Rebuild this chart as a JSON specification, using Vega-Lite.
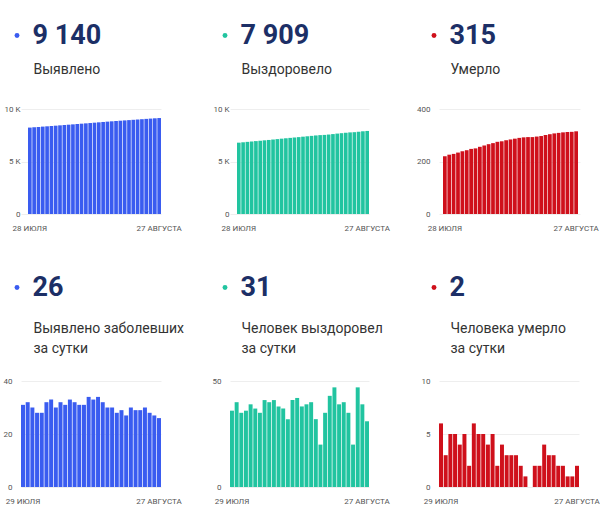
{
  "$schema": "https://vega.github.io/schema/vega-lite/v6.json",
  "padding": {"left": 3, "top": 22, "right": 0, "bottom": 0},
  "background": "white",
  "datasets": {
    "d": [
      {"date": "2020-07-28", "cum_cases": 8230, "cum_rec": 6794, "cum_deaths": 220, "new_cases": null, "new_rec": null, "new_deaths": null},
      {"date": "2020-07-29", "cum_cases": 8261, "cum_rec": 6830, "cum_deaths": 226, "new_cases": 31, "new_rec": 36, "new_deaths": 6},
      {"date": "2020-07-30", "cum_cases": 8293, "cum_rec": 6870, "cum_deaths": 229, "new_cases": 32, "new_rec": 40, "new_deaths": 3},
      {"date": "2020-07-31", "cum_cases": 8323, "cum_rec": 6905, "cum_deaths": 234, "new_cases": 30, "new_rec": 35, "new_deaths": 5},
      {"date": "2020-08-01", "cum_cases": 8351, "cum_rec": 6941, "cum_deaths": 239, "new_cases": 28, "new_rec": 36, "new_deaths": 5},
      {"date": "2020-08-02", "cum_cases": 8379, "cum_rec": 6980, "cum_deaths": 243, "new_cases": 28, "new_rec": 39, "new_deaths": 4},
      {"date": "2020-08-03", "cum_cases": 8411, "cum_rec": 7017, "cum_deaths": 248, "new_cases": 32, "new_rec": 37, "new_deaths": 5},
      {"date": "2020-08-04", "cum_cases": 8444, "cum_rec": 7052, "cum_deaths": 250, "new_cases": 33, "new_rec": 35, "new_deaths": 2},
      {"date": "2020-08-05", "cum_cases": 8474, "cum_rec": 7093, "cum_deaths": 256, "new_cases": 30, "new_rec": 41, "new_deaths": 6},
      {"date": "2020-08-06", "cum_cases": 8506, "cum_rec": 7133, "cum_deaths": 261, "new_cases": 32, "new_rec": 40, "new_deaths": 5},
      {"date": "2020-08-07", "cum_cases": 8537, "cum_rec": 7174, "cum_deaths": 266, "new_cases": 31, "new_rec": 41, "new_deaths": 5},
      {"date": "2020-08-08", "cum_cases": 8570, "cum_rec": 7212, "cum_deaths": 270, "new_cases": 33, "new_rec": 38, "new_deaths": 4},
      {"date": "2020-08-09", "cum_cases": 8602, "cum_rec": 7249, "cum_deaths": 275, "new_cases": 32, "new_rec": 37, "new_deaths": 5},
      {"date": "2020-08-10", "cum_cases": 8633, "cum_rec": 7281, "cum_deaths": 277, "new_cases": 31, "new_rec": 32, "new_deaths": 2},
      {"date": "2020-08-11", "cum_cases": 8664, "cum_rec": 7322, "cum_deaths": 281, "new_cases": 31, "new_rec": 41, "new_deaths": 4},
      {"date": "2020-08-12", "cum_cases": 8698, "cum_rec": 7364, "cum_deaths": 284, "new_cases": 34, "new_rec": 42, "new_deaths": 3},
      {"date": "2020-08-13", "cum_cases": 8731, "cum_rec": 7402, "cum_deaths": 287, "new_cases": 33, "new_rec": 38, "new_deaths": 3},
      {"date": "2020-08-14", "cum_cases": 8765, "cum_rec": 7441, "cum_deaths": 290, "new_cases": 34, "new_rec": 39, "new_deaths": 3},
      {"date": "2020-08-15", "cum_cases": 8797, "cum_rec": 7481, "cum_deaths": 292, "new_cases": 32, "new_rec": 40, "new_deaths": 2},
      {"date": "2020-08-16", "cum_cases": 8827, "cum_rec": 7513, "cum_deaths": 293, "new_cases": 30, "new_rec": 32, "new_deaths": 1},
      {"date": "2020-08-17", "cum_cases": 8857, "cum_rec": 7533, "cum_deaths": 293, "new_cases": 30, "new_rec": 20, "new_deaths": 0},
      {"date": "2020-08-18", "cum_cases": 8885, "cum_rec": 7568, "cum_deaths": 295, "new_cases": 28, "new_rec": 35, "new_deaths": 2},
      {"date": "2020-08-19", "cum_cases": 8914, "cum_rec": 7611, "cum_deaths": 297, "new_cases": 29, "new_rec": 43, "new_deaths": 2},
      {"date": "2020-08-20", "cum_cases": 8941, "cum_rec": 7658, "cum_deaths": 301, "new_cases": 27, "new_rec": 47, "new_deaths": 4},
      {"date": "2020-08-21", "cum_cases": 8971, "cum_rec": 7697, "cum_deaths": 304, "new_cases": 30, "new_rec": 39, "new_deaths": 3},
      {"date": "2020-08-22", "cum_cases": 9000, "cum_rec": 7737, "cum_deaths": 307, "new_cases": 29, "new_rec": 40, "new_deaths": 3},
      {"date": "2020-08-23", "cum_cases": 9029, "cum_rec": 7772, "cum_deaths": 309, "new_cases": 29, "new_rec": 35, "new_deaths": 2},
      {"date": "2020-08-24", "cum_cases": 9059, "cum_rec": 7792, "cum_deaths": 311, "new_cases": 30, "new_rec": 20, "new_deaths": 2},
      {"date": "2020-08-25", "cum_cases": 9087, "cum_rec": 7839, "cum_deaths": 312, "new_cases": 28, "new_rec": 47, "new_deaths": 1},
      {"date": "2020-08-26", "cum_cases": 9114, "cum_rec": 7878, "cum_deaths": 313, "new_cases": 27, "new_rec": 39, "new_deaths": 1},
      {"date": "2020-08-27", "cum_cases": 9140, "cum_rec": 7909, "cum_deaths": 315, "new_cases": 26, "new_rec": 31, "new_deaths": 2}
    ]
  },
  "config": {
    "font": "Roboto",
    "view": {"stroke": null},
    "axis": {"labelFont": "Roboto", "labelFontSize": 8, "labelColor": "#555555", "ticks": false, "domain": false, "gridColor": "#eeeeee", "title": null},
    "axisX": {"grid": false, "labelAngle": 0, "labelPadding": 10},
    "axisY": {"grid": true, "labelPadding": 9},
    "legend": {"orient": "none", "title": null, "symbolType": "circle", "symbolSize": 24, "symbolStrokeWidth": 0, "labelFont": "Roboto", "labelFontSize": 27, "labelFontWeight": "bold", "labelColor": "#1c2f66", "labelOffset": 2, "padding": 0},
    "bar": {"strokeWidth": 0}
  },
  "columns": 3,
  "align": "all",
  "bounds": "flush",
  "spacing": {"row": 166, "column": 68},
  "resolve": {"scale": {"color": "independent"}},
  "concat": [
    {
      "width": 140, "height": 105,
      "data": {"name": "d"},
      "layer": [
        {"mark": "bar", "encoding": {
          "x": {"field": "date", "type": "ordinal", "scale": {"paddingInner": 0.15, "paddingOuter": 0.812, "align": 1}, "axis": {"values": ["2020-07-28", "2020-08-27"], "labelExpr": "datum.value == '2020-08-27' ? '27 АВГУСТА' : '28 ИЮЛЯ'"}},
          "y": {"field": "cum_cases", "type": "quantitative", "scale": {"domain": [0, 10000]}, "axis": {"values": [0, 5000, 10000], "labelPadding": 1, "labelExpr": "datum.value == 0 ? '0' : (datum.value / 1000) + ' K'"}},
          "color": {"datum": "9 140", "scale": {"range": ["#3a5cf0"]}, "legend": {"legendX": -17.5, "legendY": -87}}
        }},
        {"mark": "bar", "transform": [{"filter": "false"}], "encoding": {
          "x": {"field": "date", "type": "ordinal", "axis": {"orient": "top", "labels": false, "title": "Выявлено", "titleFont": "Roboto", "titleFontSize": 14, "titleFontWeight": "normal", "titleColor": "#333333", "titleAnchor": "start", "titleAlign": "left", "titleBaseline": "bottom", "titlePadding": 33, "titleX": 12}}
        }}
      ],
      "resolve": {"axis": {"x": "independent"}}
    },
    {
      "width": 139, "height": 105,
      "data": {"name": "d"},
      "layer": [
        {"mark": "bar", "encoding": {
          "x": {"field": "date", "type": "ordinal", "scale": {"paddingInner": 0.15, "paddingOuter": 0.818, "align": 1}, "axis": {"values": ["2020-07-28", "2020-08-27"], "labelExpr": "datum.value == '2020-08-27' ? '27 АВГУСТА' : '28 ИЮЛЯ'"}},
          "y": {"field": "cum_rec", "type": "quantitative", "scale": {"domain": [0, 10000]}, "axis": {"values": [0, 5000, 10000], "labelPadding": 1, "labelExpr": "datum.value == 0 ? '0' : (datum.value / 1000) + ' K'"}},
          "color": {"datum": "7 909", "scale": {"range": ["#21c4a0"]}, "legend": {"legendX": -18.5, "legendY": -87}}
        }},
        {"mark": "bar", "transform": [{"filter": "false"}], "encoding": {
          "x": {"field": "date", "type": "ordinal", "axis": {"orient": "top", "labels": false, "title": "Выздоровело", "titleFont": "Roboto", "titleFontSize": 14, "titleFontWeight": "normal", "titleColor": "#333333", "titleAnchor": "start", "titleAlign": "left", "titleBaseline": "bottom", "titlePadding": 33, "titleX": 11}}
        }}
      ],
      "resolve": {"axis": {"x": "independent"}}
    },
    {
      "width": 141, "height": 105,
      "data": {"name": "d"},
      "layer": [
        {"mark": "bar", "encoding": {
          "x": {"field": "date", "type": "ordinal", "scale": {"paddingInner": 0.15, "paddingOuter": 0.686, "align": 0.667}, "axis": {"values": ["2020-07-28", "2020-08-27"], "labelExpr": "datum.value == '2020-08-27' ? '27 АВГУСТА' : '28 ИЮЛЯ'"}},
          "y": {"field": "cum_deaths", "type": "quantitative", "scale": {"domain": [0, 400]}, "axis": {"values": [0, 200, 400], "labelPadding": 9}},
          "color": {"datum": "315", "scale": {"range": ["#cf101b"]}, "legend": {"legendX": -18.5, "legendY": -87}}
        }},
        {"mark": "bar", "transform": [{"filter": "false"}], "encoding": {
          "x": {"field": "date", "type": "ordinal", "axis": {"orient": "top", "labels": false, "title": "Умерло", "titleFont": "Roboto", "titleFontSize": 14, "titleFontWeight": "normal", "titleColor": "#333333", "titleAnchor": "start", "titleAlign": "left", "titleBaseline": "bottom", "titlePadding": 33, "titleX": 11}}
        }}
      ],
      "resolve": {"axis": {"x": "independent"}}
    },
    {
      "width": 140, "height": 106,
      "data": {"name": "d"},
      "transform": [{"filter": "datum.new_cases != null"}],
      "layer": [
        {"mark": "bar", "encoding": {
          "x": {"field": "date", "type": "ordinal", "scale": {"paddingInner": 0.15, "paddingOuter": 0}, "axis": {"values": ["2020-07-29", "2020-08-27"], "labelExpr": "datum.value == '2020-08-27' ? '27 АВГУСТА' : '29 ИЮЛЯ'"}},
          "y": {"field": "new_cases", "type": "quantitative", "scale": {"domain": [0, 40]}, "axis": {"values": [0, 20, 40]}},
          "color": {"datum": "26", "scale": {"range": ["#3a5cf0"]}, "legend": {"legendX": -17.5, "legendY": -107}}
        }},
        {"mark": "bar", "transform": [{"filter": "false"}], "encoding": {
          "x": {"field": "date", "type": "ordinal", "axis": {"orient": "top", "labels": false, "title": ["Выявлено заболевших", "за сутки"], "titleFont": "Roboto", "titleFontSize": 14, "titleFontWeight": "normal", "titleColor": "#333333", "titleLineHeight": 20, "titleAnchor": "start", "titleAlign": "left", "titleBaseline": "bottom", "titlePadding": 26, "titleX": 12}}
        }}
      ],
      "resolve": {"axis": {"x": "independent"}}
    },
    {
      "width": 139, "height": 106,
      "data": {"name": "d"},
      "transform": [{"filter": "datum.new_rec != null"}],
      "layer": [
        {"mark": "bar", "encoding": {
          "x": {"field": "date", "type": "ordinal", "scale": {"paddingInner": 0.15, "paddingOuter": 0}, "axis": {"values": ["2020-07-29", "2020-08-27"], "labelExpr": "datum.value == '2020-08-27' ? '27 АВГУСТА' : '29 ИЮЛЯ'"}},
          "y": {"field": "new_rec", "type": "quantitative", "scale": {"domain": [0, 50]}, "axis": {"values": [0, 50]}},
          "color": {"datum": "31", "scale": {"range": ["#21c4a0"]}, "legend": {"legendX": -18.5, "legendY": -107}}
        }},
        {"mark": "bar", "transform": [{"filter": "false"}], "encoding": {
          "x": {"field": "date", "type": "ordinal", "axis": {"orient": "top", "labels": false, "title": ["Человек выздоровел", "за сутки"], "titleFont": "Roboto", "titleFontSize": 14, "titleFontWeight": "normal", "titleColor": "#333333", "titleLineHeight": 20, "titleAnchor": "start", "titleAlign": "left", "titleBaseline": "bottom", "titlePadding": 26, "titleX": 11}}
        }}
      ],
      "resolve": {"axis": {"x": "independent"}}
    },
    {
      "width": 140, "height": 106,
      "data": {"name": "d"},
      "transform": [{"filter": "datum.new_deaths != null"}],
      "layer": [
        {"mark": "bar", "encoding": {
          "x": {"field": "date", "type": "ordinal", "scale": {"paddingInner": 0.15, "paddingOuter": 0}, "axis": {"values": ["2020-07-29", "2020-08-27"], "labelExpr": "datum.value == '2020-08-27' ? '27 АВГУСТА' : '29 ИЮЛЯ'"}},
          "y": {"field": "new_deaths", "type": "quantitative", "scale": {"domain": [0, 10]}, "axis": {"values": [0, 5, 10]}},
          "color": {"datum": "2", "scale": {"range": ["#cf101b"]}, "legend": {"legendX": -18.5, "legendY": -107}}
        }},
        {"mark": "bar", "transform": [{"filter": "false"}], "encoding": {
          "x": {"field": "date", "type": "ordinal", "axis": {"orient": "top", "labels": false, "title": ["Человека умерло", "за сутки"], "titleFont": "Roboto", "titleFontSize": 14, "titleFontWeight": "normal", "titleColor": "#333333", "titleLineHeight": 20, "titleAnchor": "start", "titleAlign": "left", "titleBaseline": "bottom", "titlePadding": 26, "titleX": 11}}
        }}
      ],
      "resolve": {"axis": {"x": "independent"}}
    }
  ]
}
